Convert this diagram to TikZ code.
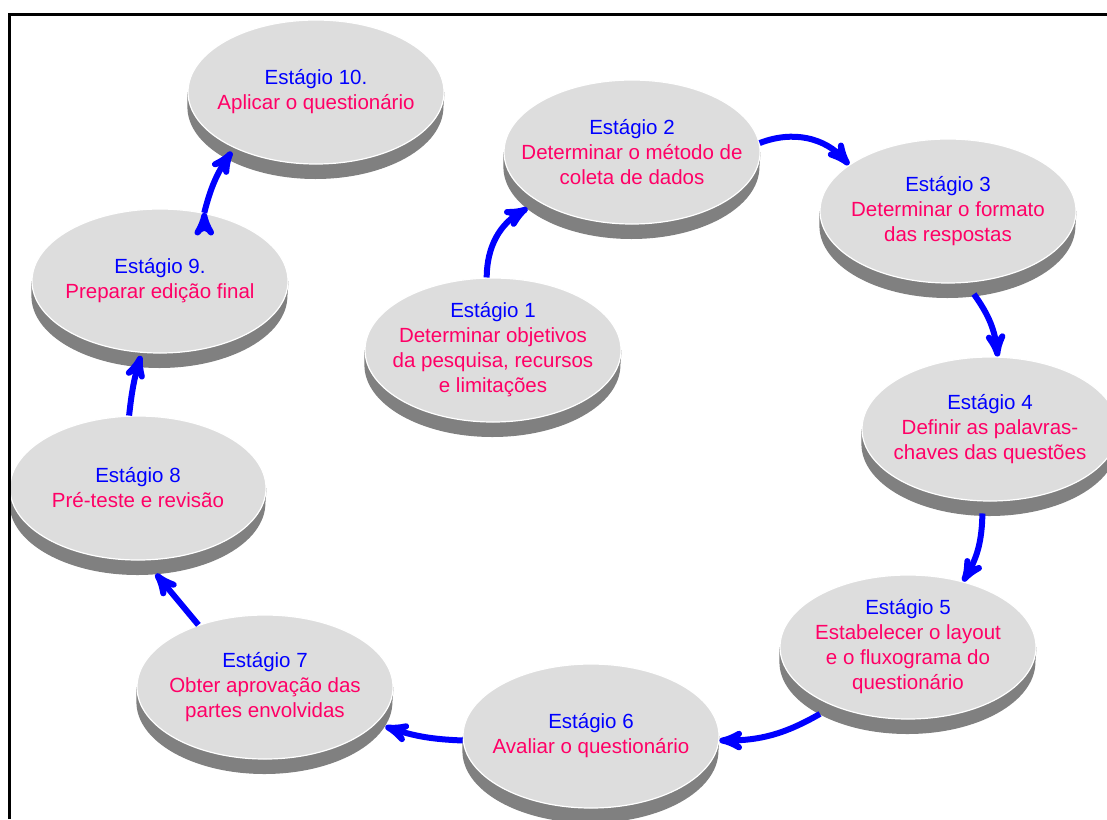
\documentclass[tikz,border=0pt]{standalone}
\usepackage{fontspec}
\setmainfont{Liberation Sans}
\usepackage{xcolor}
\usepackage{tikz}
\usetikzlibrary{shapes.geometric, positioning, arrows, backgrounds}

\definecolor{stageblue}{RGB}{0,0,255}
\definecolor{stagepink}{RGB}{255,0,102}
\definecolor{facegray}{RGB}{221,221,221}
\definecolor{sidegray}{RGB}{128,128,128}

\begin{document}
\begin{tikzpicture}[>=stealth', x=1pt, y=1pt, on grid,
        disk/.style={ellipse, minimum width=256pt, minimum height=144pt, inner sep=0pt,
            fill=facegray, draw=white, line width=1.2pt},
        side/.style={fill=sidegray},
        stagetext/.style={align=center, text=stagepink, font=\fontsize{20.5}{25}\selectfont},
        flow/.style={->, draw=stageblue, line width=6pt}]

        \useasboundingbox (0,0) rectangle (1107,-819);

        \node[disk]                                     (s1) at (493,-350) {};
        \node[disk, above right=198pt and 139pt of s1]  (s2) {};
        \node[disk, below right=59pt and 316pt of s2]   (s3) {};
        \node[disk, below right=218pt and 42pt of s3]   (s4) {};
        \node[disk, below left=218pt and 82pt of s4]    (s5) {};
        \node[disk, below left=89pt and 317pt of s5]    (s6) {};
        \node[disk, above left=49pt and 326pt of s6]    (s7) {};
        \node[disk, above left=199pt and 127pt of s7]   (s8) {};
        \node[disk, above right=207pt and 22pt of s8]   (s9) {};
        \node[disk, above right=189pt and 156pt of s9]  (s10) {};

        % side of each disk
        \begin{pgfonlayer}{background}
            \fill[white] (0,0) rectangle (1107,-819);
            \foreach \n in {s1,s2,s3,s4,s5,s6,s7,s8,s9,s10}
                \fill[side] (\n.west) -- ([yshift=-15pt]\n.west)
                    arc[start angle=180, end angle=360, x radius=128pt, y radius=72pt]
                    -- (\n.east) -- cycle;
        \end{pgfonlayer}

        \node[stagetext] (t1)  at (s1)  {\textcolor{stageblue}{Estágio 1}\\Determinar objetivos\\da pesquisa, recursos\\e limitações};
        \node[stagetext] (t2)  at (s2)  {\textcolor{stageblue}{Estágio 2}\\Determinar o método de\\coleta de dados};
        \node[stagetext] (t3)  at (s3)  {\textcolor{stageblue}{Estágio 3}\\Determinar o formato\\das respostas};
        \node[stagetext] (t4)  at (s4)  {\textcolor{stageblue}{Estágio 4}\\Definir as palavras-\\chaves das questões};
        \node[stagetext] (t5)  at (s5)  {\textcolor{stageblue}{Estágio 5}\\Estabelecer o layout\\e o fluxograma do\\questionário};
        \node[stagetext] (t6)  at (s6)  {\textcolor{stageblue}{Estágio 6}\\Avaliar o questionário};
        \node[stagetext] (t7)  at (s7)  {\textcolor{stageblue}{Estágio 7}\\Obter aprovação das\\partes envolvidas};
        \node[stagetext] (t8)  at (s8)  {\textcolor{stageblue}{Estágio 8}\\Pré-teste e revisão};
        \node[stagetext] (t9)  at (s9)  {\textcolor{stageblue}{Estágio 9.}\\Preparar edição final};
        \node[stagetext] (t10) at (s10) {\textcolor{stageblue}{Estágio 10.}\\Aplicar o questionário};

        \draw[flow]
                (s1.95)                 edge[bend left=30]  ([yshift=-14pt]s2.202)
                (s2.4)                  edge[bend left=35]  (s3.155)
                ([yshift=-12pt]s3.-70)  edge[bend left=15]  (s4.84)
                ([yshift=-12pt]s4.-96)  edge[bend left=15]  (s5.50)
                ([yshift=-14pt]s5.211)  edge[bend left=15]  (s6.-2)
                (s6.182)                edge[bend left=8]   ([yshift=-14pt]s7.-12)
                (s7.137)                edge                ([yshift=-14pt]s8.-76)
                (s8.97)                 edge[bend left=5]   ([yshift=-3pt]s9.-105)
                (s9.57)                 edge[bend left=10]  ([yshift=-5pt]s10.-147);

        % frame
        \draw[line width=3pt] (9.5,-819) -- (9.5,-14.7) -- (1107,-14.7);

    \end{tikzpicture}
\end{document}
